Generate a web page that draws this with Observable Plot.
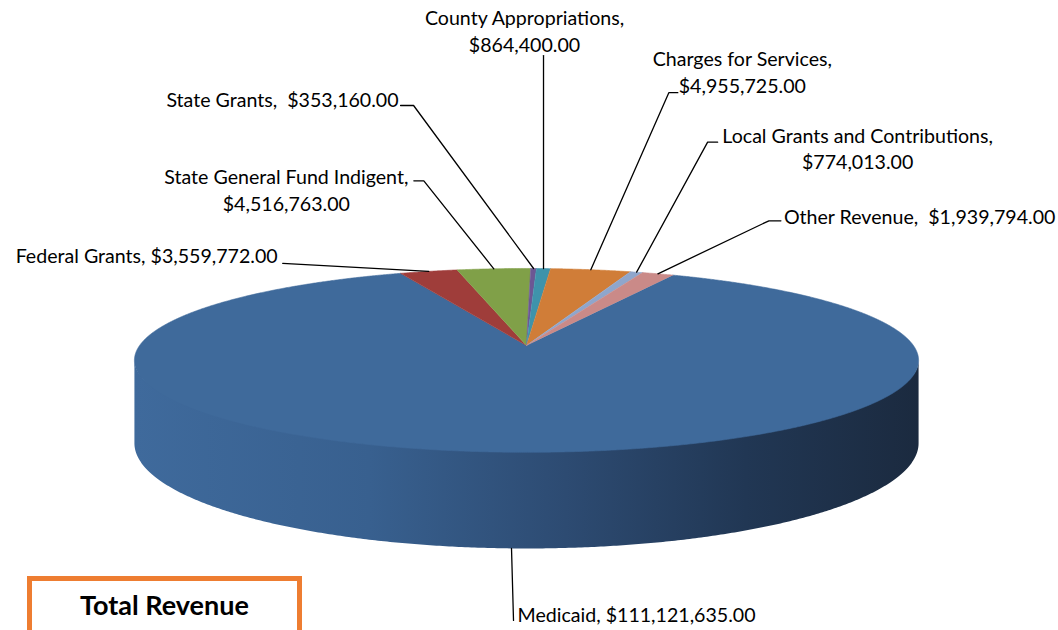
<!DOCTYPE html>
<html>
<head>
<meta charset="utf-8">
<script src="https://cdn.jsdelivr.net/npm/d3@7"></script>
<script src="https://cdn.jsdelivr.net/npm/@observablehq/plot@0.6"></script>
<style>
  html, body { margin: 0; padding: 0; background: #fff; overflow: hidden; }
  #wrap { position: relative; width: 1058px; height: 630px; overflow: hidden; }
  #box {
    position: absolute; left: 27px; top: 576px; width: 265px; height: 80px;
    border: 5px solid #EE7D31; box-sizing: content-box;
    font: bold 27px Lato, "Open Sans", sans-serif; color: #000;
    text-align: center; line-height: 1; padding-top: 10px;
  }
</style>
</head>
<body>
<div id="wrap"><div id="chart"></div><div id="box">Total Revenue</div></div>
<script>
// ---- data ----
const categories = [
  "Medicaid", "Federal Grants", "State General Fund Indigent", "State Grants",
  "County Appropriations", "Charges for Services", "Local Grants and Contributions", "Other Revenue"
];
const values = [111121635, 3559772, 4516763, 353160, 864400, 4955725, 774013, 1939794];
const colors = ["#3F6A9B", "#9F3D3A", "#80A048", "#6C5794", "#3E93AB", "#D07D38", "#8FA6CC", "#CA8A88"];

// ---- layout (label placement relative to each slice's rim anchor) ----
const labelSep = [", ", ", ", ",\n", ",\u00a0 ", ",\n", ",\n", ",\n", ",\u00a0 "];
const labelAnchor = ["start", "end", "middle", "end", "middle", "middle", "middle", "start"];
const labelOffset = [[6, 74], [-151, -8], [-207.5, -58], [-135, -161], [-19, -217], [151.5, -177], [221, -103], [126, -50]];
const leaderOffsets = [
  [[0, 0], [2, 72]],
  [[0, 0], [-146, -8]],
  [[0, 0], [-70, -88], [-80, -88]],
  [[0, 0], [-120, -163], [-133, -163]],
  [[0, 0], [0, -213]],
  [[0, 0], [78, -177], [87, -177]],
  [[0, 0], [71, -130], [81, -130]],
  [[0, 0], [111, -53], [123, -53]]
];

// ---- pie geometry (3D tilted, slight perspective) ----
const geo = {cx: 526, cy: 345, r: 386.9, b: 89.5, k: 0.162, depth: 80.6, rotation: 25.7};
function project(t, drop = 0) {
  const s = 1 / (1 + geo.k * Math.cos(t));
  return [geo.cx + geo.r * Math.sin(t) * s, geo.cy + (-geo.b * Math.cos(t) + drop) * s];
}
const fmt = d3.format("$,.2f");
const rot = geo.rotation * Math.PI / 180;
const arcs = d3.pie().sort(null).startAngle(rot).endAngle(rot + 2 * Math.PI)(values);

const step = Math.PI / 720;
const topPts = [];
arcs.forEach((a, i) => {
  topPts.push({name: categories[i], x: geo.cx, y: geo.cy});
  const n = Math.max(2, Math.ceil((a.endAngle - a.startAngle) / step));
  for (let j = 0; j <= n; j++) {
    const t = a.startAngle + (a.endAngle - a.startAngle) * j / n;
    const [x, y] = project(t);
    topPts.push({name: categories[i], x, y});
  }
});

// front wall: between the two silhouette tangents (top edge tucked under the top face)
const tR = Math.acos(-geo.k), tL = 2 * Math.PI - tR;
const wallPts = [];
const nW = 400;
for (let j = 0; j <= nW; j++) {
  const t = tR + (tL - tR) * j / nW;
  const [x, y] = project(t, -4 * Math.sin(Math.PI * j / nW));
  wallPts.push({x, y});
}
for (let j = nW; j >= 0; j--) { const t = tR + (tL - tR) * j / nW; const [x, y] = project(t, geo.depth); wallPts.push({x, y}); }

// labels + leaders
const labels = [], leaders = [];
arcs.forEach((a, i) => {
  const mid = (a.startAngle + a.endAngle) / 2;
  const front = i === 0;
  const [ax, ay] = project(mid, front ? geo.depth : 0);
  labels.push({
    name: categories[i], anchor: labelAnchor[i],
    text: categories[i] + labelSep[i] + fmt(values[i]),
    x: ax + labelOffset[i][0], y: ay + labelOffset[i][1]
  });
  leaderOffsets[i].forEach(([dx, dy]) => leaders.push({name: categories[i], x: ax + dx, y: ay + dy}));
});

const textOpts = a => ({
  filter: d => d.anchor === a, x: "x", y: "y", text: "text", textAnchor: a,
  lineAnchor: "bottom", lineHeight: 1.36, fontSize: 19.6, fontFamily: "Lato", fill: "#000"
});

const chart = Plot.plot({
  width: 1058, height: 630, margin: 0,
  x: {domain: [0, 1058], range: [0, 1058], axis: null},
  y: {domain: [0, 630], range: [0, 630], axis: null},
  color: {domain: categories, range: colors},
  style: {background: "transparent", fontFamily: "Lato"},
  marks: [
    Plot.line(wallPts, {x: "x", y: "y", fill: "url(#wallGrad)", stroke: "none", curve: "linear"}),
    Plot.line(topPts, {x: "x", y: "y", z: "name", fill: "name", stroke: "name", strokeWidth: 0.6, curve: "linear"}),
    Plot.line(leaders, {x: "x", y: "y", z: "name", stroke: "#000", strokeWidth: 1.3, curve: "linear"}),
    Plot.text(labels, textOpts("start")),
    Plot.text(labels, textOpts("middle")),
    Plot.text(labels, textOpts("end"))
  ]
});

const defs = document.createElementNS("http://www.w3.org/2000/svg", "defs");
defs.innerHTML = `<linearGradient id="wallGrad" x1="0" x2="1" y1="0" y2="0">
  <stop offset="0" stop-color="#3F6A9C"/>
  <stop offset="0.3" stop-color="#38608F"/>
  <stop offset="0.55" stop-color="#2D4B72"/>
  <stop offset="0.78" stop-color="#213754"/>
  <stop offset="1" stop-color="#1B2A3F"/>
</linearGradient>`;
chart.insertBefore(defs, chart.firstChild);
document.getElementById("chart").appendChild(chart);
</script>
</body>
</html>
